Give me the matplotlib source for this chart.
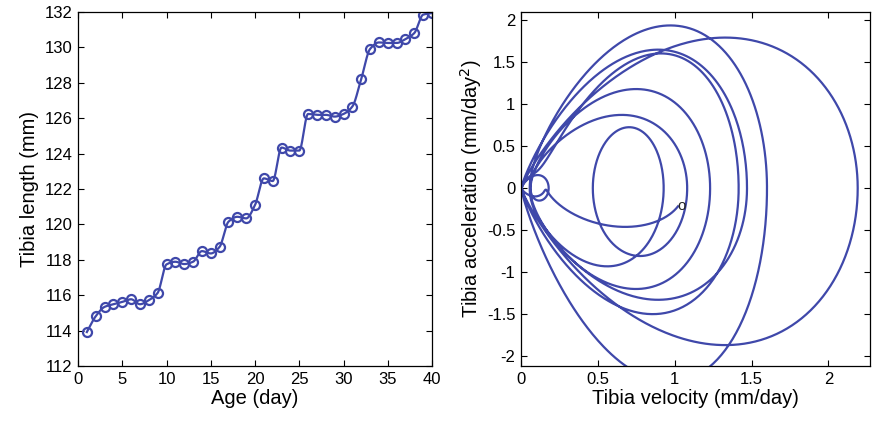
import numpy as np
import matplotlib
matplotlib.use("Agg")
import matplotlib.pyplot as plt

# ---- data ----
age = list(range(1, 41))
length = [113.92, 114.81, 115.34, 115.49, 115.62, 115.77, 115.49, 115.72, 116.13, 117.74,
          117.89, 117.76, 117.89, 118.49, 118.36, 118.73, 120.15, 120.43, 120.34, 121.09,
          122.60, 122.45, 124.34, 124.17, 124.17, 126.24, 126.19, 126.19, 126.09, 126.24,
          126.66, 128.21, 129.91, 130.28, 130.25, 130.25, 130.47, 130.81, 131.85, 131.94]

# growth spurts seen in the phase-plane (velocity pulses)
spurt_day = [0.61, 4.6, 8.4, 9.6, 13.6, 16.6, 20.3, 22.5, 25.5, 31.9, 38.6]
spurt_peak_velocity = [1.064, 0.14, 0.10, 1.41, 0.18, 1.23, 1.08, 0.92, 1.60, 2.19, 1.47]
spurt_rise_width = [1.35, 1.1, 0.5, 0.50, 0.7, 0.63, 0.75, 0.59, 0.50, 0.74, 0.54]
spurt_fall_width = [1.35, 0.9, 0.5, 0.57, 0.7, 0.62, 0.70, 0.60, 0.42, 0.71, 0.67]

BLUE = "#3f48aa"

plt.rcParams['font.family'] = ['Liberation Sans', 'DejaVu Sans']


def pchip(x, y, xn):
    x = np.asarray(x, float)
    y = np.asarray(y, float)
    h = np.diff(x)
    d = np.diff(y) / h
    m = np.zeros_like(y)
    for k in range(1, len(x) - 1):
        if d[k - 1] * d[k] > 0:
            w1 = 2 * h[k] + h[k - 1]
            w2 = h[k] + 2 * h[k - 1]
            m[k] = (w1 + w2) / (w1 / d[k - 1] + w2 / d[k])
    m[0] = d[0]
    m[-1] = d[-1]
    idx = np.clip(np.searchsorted(x, xn) - 1, 0, len(h) - 1)
    t = (xn - x[idx]) / h[idx]
    h00 = 2 * t**3 - 3 * t**2 + 1
    h10 = t**3 - 2 * t**2 + t
    h01 = -2 * t**3 + 3 * t**2
    h11 = t**3 - t**2
    return h00 * y[idx] + h10 * h[idx] * m[idx] + h01 * y[idx + 1] + h11 * h[idx] * m[idx + 1]


fig = plt.figure(figsize=(8.72, 4.22), dpi=100)
ax1 = fig.add_axes([78 / 872, 1 - 366 / 422, 354 / 872, 354 / 422])
ax2 = fig.add_axes([521 / 872, 1 - 366 / 422, 349 / 872, 354 / 422])

# left panel
xs = np.linspace(age[0], age[-1], 2000)
ax1.plot(xs, pchip(age, length, xs), color=BLUE, lw=1.6)
ax1.plot(age, length, 'o', mfc='none', mec=BLUE, mew=1.6, ms=6.5)
ax1.set_xlim(0, 40)
ax1.set_ylim(112, 132)
ax1.set_xticks(range(0, 41, 5))
ax1.set_yticks(range(112, 133, 2))
ax1.set_xlabel("Age (day)", fontsize=14.5, labelpad=2)
ax1.set_ylabel("Tibia length (mm)", fontsize=14.5, labelpad=4)

# right panel: phase plane
t = np.linspace(age[0], age[-1], 6000)
v = np.zeros_like(t)
acc = np.zeros_like(t)
for c, P, sr, sf in zip(spurt_day, spurt_peak_velocity, spurt_rise_width, spurt_fall_width):
    s = np.where(t < c, sr, sf)
    g = P * np.exp(-(t - c) ** 2 / (2 * s ** 2))
    v += g
    acc += -g * (t - c) / s ** 2
ax2.plot(v, acc, color=BLUE, lw=1.6)
ax2.text(v[0] + 0.025, acc[0], "o", fontsize=11, ha='center', va='center', color='#222222')
ax2.set_xlim(0, 2.27)
ax2.set_ylim(-2.12, 2.1)
ax2.set_xticks([0, 0.5, 1, 1.5, 2])
ax2.set_xticklabels(["0", "0.5", "1", "1.5", "2"])
ax2.set_yticks([-2, -1.5, -1, -0.5, 0, 0.5, 1, 1.5, 2])
ax2.set_yticklabels(["-2", "-1.5", "-1", "-0.5", "0", "0.5", "1", "1.5", "2"])
ax2.set_xlabel("Tibia velocity (mm/day)", fontsize=14.5, labelpad=2)
ax2.set_ylabel("Tibia acceleration (mm/day$^2$)", fontsize=14.5, labelpad=2)

for ax in (ax1, ax2):
    ax.tick_params(direction='in', top=True, right=True, length=4, width=0.8,
                   labelsize=12, pad=4)
    for sp in ax.spines.values():
        sp.set_linewidth(0.9)

fig.savefig("out.png", dpi=100)
